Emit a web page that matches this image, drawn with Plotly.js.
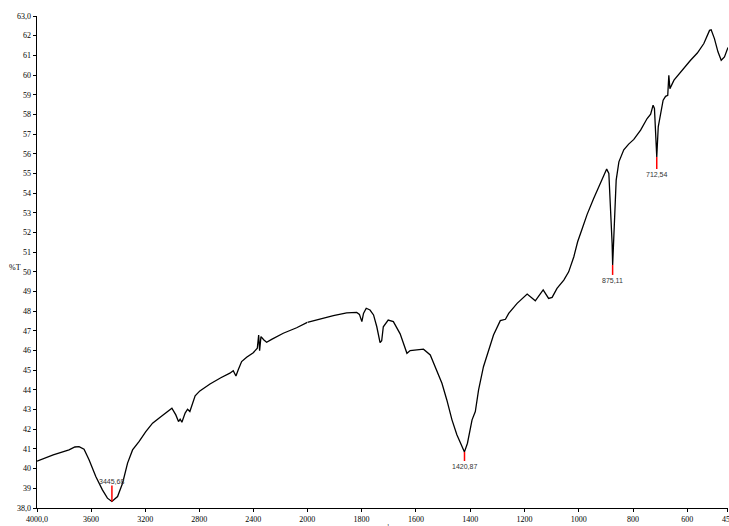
<!DOCTYPE html>
<html>
<head>
<meta charset="utf-8">
<script src="https://cdn.plot.ly/plotly-3.0.1.min.js"></script>
<style>html,body{margin:0;padding:0;background:#fff;}#chart{width:729px;height:526px;}</style>
</head>
<body>
<div id="chart"></div>
<script>
// Spectrum, high-wavenumber part (4000 -> 2000 cm-1)
var wnHigh = [4000, 3880, 3763, 3720, 3689, 3652, 3615, 3565, 3516, 3479, 3446, 3404, 3367, 3330, 3293, 3244, 3195, 3145, 3084, 3022, 3002, 2973, 2953, 2941, 2928, 2904, 2886, 2869, 2849, 2830, 2795, 2720, 2640, 2573, 2548, 2528, 2511, 2486, 2449, 2400, 2370, 2360, 2353, 2343, 2321, 2301, 2264, 2178, 2079, 2000];
var tHigh  = [40.38, 40.70, 40.95, 41.10, 41.12, 40.99, 40.45, 39.60, 38.92, 38.50, 38.33, 38.58, 39.26, 40.28, 40.95, 41.38, 41.88, 42.31, 42.64, 42.98, 43.07, 42.73, 42.39, 42.51, 42.36, 42.82, 43.02, 42.90, 43.33, 43.70, 43.95, 44.30, 44.62, 44.85, 44.98, 44.71, 45.02, 45.44, 45.66, 45.89, 46.12, 46.79, 45.99, 46.71, 46.54, 46.42, 46.57, 46.88, 47.16, 47.43];
// Spectrum, low-wavenumber part (2000 -> 450 cm-1)
var wnLow = [2000, 1953, 1904, 1855, 1818, 1808, 1799, 1793, 1783, 1769, 1756, 1744, 1732, 1726, 1720, 1702, 1683, 1658, 1643, 1633, 1621, 1572, 1547, 1523, 1504, 1486, 1467, 1449, 1430, 1421, 1410, 1393, 1381, 1369, 1351, 1332, 1314, 1289, 1270, 1258, 1227, 1190, 1160, 1131, 1111, 1098, 1080, 1055, 1037, 1018, 1004, 987, 969, 945, 926, 908, 897, 889, 883, 877, 875, 868, 862, 852, 846, 834, 816, 797, 772, 748, 735, 726, 721, 716, 712.5, 707, 699, 689, 680, 672, 668, 664, 649, 625, 588, 563, 539, 518, 512, 500, 487, 475, 463, 450];
var tLow  = [47.43, 47.60, 47.77, 47.91, 47.94, 47.84, 47.47, 47.89, 48.15, 48.06, 47.81, 47.21, 46.40, 46.50, 47.21, 47.55, 47.47, 46.85, 46.28, 45.86, 46.00, 46.07, 45.78, 45.02, 44.34, 43.49, 42.48, 41.72, 41.12, 40.85, 41.29, 42.48, 42.90, 44.00, 45.18, 46.03, 46.79, 47.52, 47.59, 47.89, 48.40, 48.87, 48.53, 49.08, 48.65, 48.70, 49.16, 49.58, 50.00, 50.77, 51.53, 52.20, 52.92, 53.73, 54.32, 54.91, 55.22, 55.00, 53.48, 51.45, 50.35, 52.80, 54.66, 55.59, 55.80, 56.20, 56.49, 56.73, 57.20, 57.79, 58.01, 58.47, 58.30, 57.20, 55.84, 57.37, 57.96, 58.72, 58.92, 58.97, 59.99, 59.31, 59.74, 60.16, 60.75, 61.12, 61.60, 62.27, 62.30, 61.85, 61.18, 60.75, 60.92, 61.40];

// Marked peaks
var peakWn = [3445.68, 1420.87, 875.11, 712.54];
var peakT = [38.33, 40.85, 50.35, 55.84];
var peakLabels = ['3445,68', '1420,87', '875,11', '712,54'];

// Ticks
var xHighTicks = [4000, 3600, 3200, 2800, 2400];
var xHighLabels = ['4000,0', '3600', '3200', '2800', '2400'];
var xLowTicks = [2000, 1800, 1600, 1400, 1200, 1000, 800, 600, 450];
var xLowLabels = ['2000', '1800', '1600', '1400', '1200', '1000', '800', '600', '450'];
var yTicks = [38,39,40,41,42,43,44,45,46,47,48,49,50,51,52,53,54,55,56,57,58,59,60,61,62,63];
var yLabels = yTicks.map(function(v){ return (v === 38 || v === 63) ? v + ',0' : String(v); });

// Style (not data)
var peakLineLen = [16, -9, -10, -12];   // px, positive = upward
var split = 0.3912;
var serif = 'Liberation Serif, Times New Roman, serif';
var sans = 'Liberation Sans, Arial, sans-serif';

var traces = [
  {x: wnHigh, y: tHigh, xaxis: 'x', yaxis: 'y', type: 'scatter', mode: 'lines',
   line: {color: '#000', width: 1.3}, hoverinfo: 'skip'},
  {x: wnLow, y: tLow, xaxis: 'x2', yaxis: 'y', type: 'scatter', mode: 'lines',
   line: {color: '#000', width: 1.3}, hoverinfo: 'skip'}
];

var shapes = [];
var annotations = [];
for (var i = 0; i < peakWn.length; i++) {
  var xr = peakWn[i] >= 2000 ? 'x' : 'x2';
  var len = peakLineLen[i];
  shapes.push({type: 'line', xref: xr, yref: 'y', ysizemode: 'pixel', yanchor: peakT[i],
    x0: peakWn[i], x1: peakWn[i], y0: 0, y1: len, line: {color: '#ff0000', width: 1.5}});
  annotations.push({xref: xr, yref: 'y', x: peakWn[i], y: peakT[i], text: peakLabels[i],
    showarrow: false, xanchor: 'center', yanchor: len > 0 ? 'bottom' : 'top',
    yshift: len > 0 ? len - 1 : len, font: {family: sans, size: 7, color: '#333'}});
}
annotations.push({xref: 'paper', yref: 'paper', x: -0.032, y: 0.488, text: '%T', showarrow: false,
  xanchor: 'center', yanchor: 'middle', font: {family: serif, size: 8, color: '#000'}});
annotations.push({xref: 'paper', yref: 'paper', x: 0.5, y: -0.026, text: 'cm<sup>-1</sup>', showarrow: false,
  xanchor: 'center', yanchor: 'top', font: {family: serif, size: 8, color: '#000'}});

function axisBase() {
  return {showgrid: false, zeroline: false, showline: true, linecolor: '#000', linewidth: 1.3,
    ticks: 'outside', ticklen: 3, tickcolor: '#000', tickwidth: 1, tickmode: 'array',
    ticklabeloverflow: 'allow',
    tickfont: {family: serif, size: 8, color: '#000'}, fixedrange: true};
}

var layout = {
  width: 729, height: 526,
  margin: {l: 37, r: 1, t: 16, b: 18},
  paper_bgcolor: '#fff', plot_bgcolor: '#fff',
  showlegend: false,
  xaxis: Object.assign(axisBase(), {domain: [0, split], range: [4000, 2000], anchor: 'y',
    tickvals: xHighTicks, ticktext: xHighLabels}),
  xaxis2: Object.assign(axisBase(), {domain: [split, 1], range: [2000, 450], anchor: 'y',
    tickvals: xLowTicks, ticktext: xLowLabels}),
  yaxis: Object.assign(axisBase(), {range: [38, 63], anchor: 'x', tickvals: yTicks, ticktext: yLabels}),
  shapes: shapes,
  annotations: annotations
};

Plotly.newPlot('chart', traces, layout, {displayModeBar: false, staticPlot: true});
</script>
</body>
</html>
